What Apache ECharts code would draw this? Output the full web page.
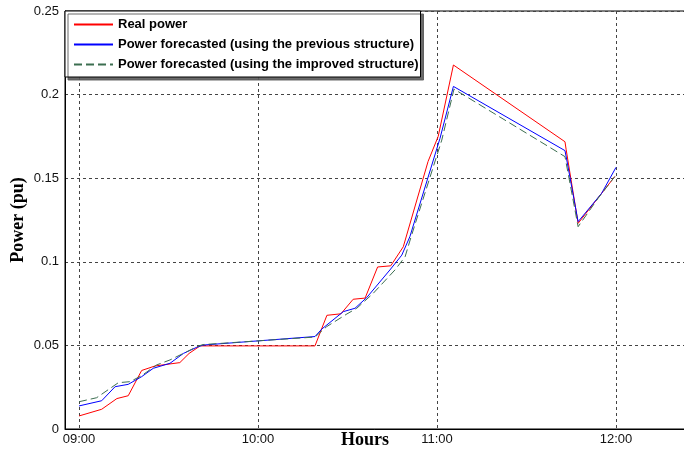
<!DOCTYPE html>
<html>
<head>
<meta charset="utf-8">
<script src="https://cdn.jsdelivr.net/npm/echarts@6/dist/echarts.min.js"></script>
<style>
html,body{margin:0;padding:0;background:#fff;}
#chart{width:684px;height:454px;}
</style>
</head>
<body>
<div id="chart"></div>
<script>
// Minutes after 09:00 and power (pu)
var realMinutes = [0, 7.6, 12.7, 16.5, 21.0, 25.5, 33.8, 36.9, 40.6, 79.1, 83.1, 87.8, 91.9, 95.9, 100.1, 104.5, 108.7, 117.0, 120.4, 125.5, 162.9, 163.3, 167.3, 175.2, 179.6];
var realPower = [0.0078, 0.0118, 0.0182, 0.0199, 0.0350, 0.0377, 0.0397, 0.0452, 0.0497, 0.0497, 0.0680, 0.0689, 0.0776, 0.0783, 0.0969, 0.0976, 0.1090, 0.1600, 0.1750, 0.2177, 0.1718, 0.1670, 0.1230, 0.1410, 0.1510];

var prevMinutes = [0, 7.6, 12.1, 16.5, 21.0, 24.9, 30.5, 35.0, 39.5, 41.6, 79.1, 81.4, 88.6, 92.5, 96.4, 104.2, 108.2, 110.9, 121.0, 125.5, 162.9, 163.5, 167.3, 175.2, 180.0];
var prevPower = [0.0138, 0.0169, 0.0253, 0.0267, 0.0313, 0.0363, 0.0393, 0.0452, 0.0489, 0.0502, 0.0553, 0.0598, 0.0702, 0.0722, 0.0785, 0.0951, 0.1040, 0.1150, 0.1738, 0.2049, 0.1665, 0.1609, 0.1240, 0.1410, 0.1565];

var imprMinutes = [0, 5.9, 13.2, 17.1, 21.0, 26.0, 30.5, 36.1, 40.0, 41.6, 79.1, 83.0, 89.8, 93.1, 98.6, 105.9, 109.3, 111.5, 121.6, 125.7, 162.9, 167.3, 174.0, 179.6];
var imprPower = [0.0163, 0.0187, 0.0277, 0.0283, 0.0319, 0.0383, 0.0413, 0.0462, 0.0496, 0.0505, 0.0550, 0.0612, 0.0688, 0.0722, 0.0811, 0.0951, 0.1030, 0.1160, 0.1728, 0.2033, 0.1629, 0.1210, 0.1380, 0.1510];

var hourTicks = [9, 10, 11, 12];
var seriesNames = ['Real power', 'Power forecasted (using the previous structure)', 'Power forecasted (using the improved structure)'];

function pairs(mins, vals) {
  return mins.map(function (m, i) { return [9 + m / 60, vals[i]]; });
}

var chart = echarts.init(document.getElementById('chart'), null, {renderer: 'canvas'});
var gridColor = '#444';
chart.setOption({
  animation: false,
  backgroundColor: '#fff',
  grid: {
    left: 65, top: 11, bottom: 25, right: -21.5,
    outerBoundsMode: 'none',
    containLabel: false,
    show: true, borderColor: '#000', borderWidth: 1, backgroundColor: 'transparent'
  },
  xAxis: {
    type: 'value',
    min: 9 - 14 / 179,
    max: 12.5,
    axisLine: {show: true, lineStyle: {color: '#000', width: 1}},
    axisTick: {show: false, customValues: hourTicks},
    axisLabel: {
      customValues: hourTicks,
      margin: 4,
      fontFamily: 'Liberation Sans',
      fontSize: 13,
      color: '#111',
      formatter: function (v) {
        var h = Math.round(v);
        return (h < 10 ? '0' + h : '' + h) + ':00';
      }
    },
    splitLine: {show: true, lineStyle: {color: gridColor, width: 1, type: [3, 3]}}
  },
  yAxis: {
    type: 'value',
    min: 0, max: 0.25, interval: 0.05,
    axisLine: {show: true, lineStyle: {color: '#000', width: 1}},
    axisTick: {show: false},
    axisLabel: {
      margin: 6,
      fontFamily: 'Liberation Sans',
      fontSize: 13,
      color: '#111'
    },
    splitLine: {show: true, lineStyle: {color: gridColor, width: 1, type: [3, 3]}}
  },
  legend: {
    data: seriesNames,
    orient: 'vertical',
    left: 65, top: 11,
    padding: [7, 2, 6, 8],
    itemWidth: 39, itemHeight: 14, itemGap: 7,
    itemStyle: {opacity: 0},
    backgroundColor: '#fff',
    borderColor: '#000', borderWidth: 1,
    shadowColor: 'rgba(90,90,90,0.9)', shadowBlur: 0, shadowOffsetX: 3, shadowOffsetY: 3,
    textStyle: {fontFamily: 'Liberation Sans', fontWeight: 'bold', fontSize: 13, color: '#000'}
  },
  graphic: [{
    type: 'text',
    left: 341, top: 431,
    style: {text: 'Hours', font: 'bold 18px "Liberation Serif"', fill: '#000'}
  }, {
    type: 'text',
    x: 18, y: 220,
    rotation: Math.PI / 2,
    style: {
      text: 'Power (pu)', font: 'bold 18px "Liberation Serif"', fill: '#000',
      align: 'center', verticalAlign: 'middle',
      textAlign: 'center', textVerticalAlign: 'middle'
    }
  }],
  series: [{
    name: seriesNames[0], type: 'line', symbol: 'none', showSymbol: false,
    data: pairs(realMinutes, realPower),
    lineStyle: {color: '#ff0000', width: 1}, itemStyle: {color: '#ff0000'}
  }, {
    name: seriesNames[1], type: 'line', symbol: 'none', showSymbol: false,
    data: pairs(prevMinutes, prevPower),
    lineStyle: {color: '#0000ff', width: 1}, itemStyle: {color: '#0000ff'}
  }, {
    name: seriesNames[2], type: 'line', symbol: 'none', showSymbol: false,
    data: pairs(imprMinutes, imprPower),
    lineStyle: {color: '#3c6e50', width: 1, type: [8, 4]}, itemStyle: {color: '#3c6e50'}
  }]
});
</script>
</body>
</html>
